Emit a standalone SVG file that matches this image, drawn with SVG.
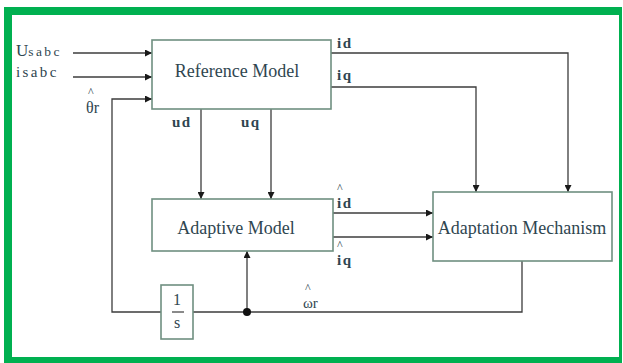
<svg xmlns="http://www.w3.org/2000/svg" width="623" height="363" viewBox="0 0 623 363">
  <style>
    .box { fill: #ffffff; stroke: #6f8f80; stroke-width: 1.6; }
    .wire { fill: none; stroke: #3c3c3c; stroke-width: 1.3; }
    .lbl { font-family: "Liberation Serif", "Times New Roman", serif; fill: #2f4650; }
    .title { font-size: 18px; text-anchor: middle; }
    .sig { font-size: 15px; letter-spacing: 1.5px; font-weight: bold; }
    .hat { font-size: 12px; }
  </style>
  <defs>
    <marker id="arrow" viewBox="0 0 10 10" refX="10" refY="5" markerWidth="7" markerHeight="7" markerUnits="userSpaceOnUse" orient="auto">
      <path d="M0,0 L10,5 L0,10 z" fill="#1a1a1a"/>
    </marker>
  </defs>

  <!-- frame -->
  <rect x="0" y="0" width="623" height="363" fill="#ffffff"/>
  <path d="M4,7 H622 V363 H4 Z M12,15 V357 H619 V15 Z" fill="#00b050" fill-rule="evenodd"/>

  <!-- connectors -->
  <g id="connectors">
    <line class="wire" x1="73" y1="53" x2="152" y2="53" marker-end="url(#arrow)"/>
    <line class="wire" x1="73" y1="77" x2="152" y2="77" marker-end="url(#arrow)"/>
    <polyline class="wire" points="161,312 112,312 112,99 152,99" marker-end="url(#arrow)"/>
    <line class="wire" x1="201" y1="109" x2="201" y2="199" marker-end="url(#arrow)"/>
    <line class="wire" x1="271" y1="109" x2="271" y2="199" marker-end="url(#arrow)"/>
    <polyline class="wire" points="331,53 568,53 568,192" marker-end="url(#arrow)"/>
    <polyline class="wire" points="331,87 476,87 476,192" marker-end="url(#arrow)"/>
    <line class="wire" x1="333" y1="213" x2="433" y2="213" marker-end="url(#arrow)"/>
    <line class="wire" x1="333" y1="237" x2="433" y2="237" marker-end="url(#arrow)"/>
    <polyline class="wire" points="522,261 522,312 193,312"/>
    <line class="wire" x1="247" y1="312" x2="247" y2="251" marker-end="url(#arrow)"/>
    <circle cx="247" cy="312" r="4" fill="#111111"/>
  </g>

  <!-- signal labels; estimated quantities carry a hat above -->
  <g class="lbl">
    <text x="16" y="56"><tspan font-size="17">U</tspan><tspan font-size="13.5" letter-spacing="2.4">sabc</tspan></text>
    <text x="16" y="77" font-size="15" letter-spacing="2.4">isabc</text>
    <text class="hat" x="88" y="96">^</text>
    <text x="86" y="113" font-size="16">θr</text>
    <text class="sig" x="172" y="127">ud</text>
    <text class="sig" x="241" y="127">uq</text>
    <text class="sig" x="337" y="48">id</text>
    <text class="sig" x="337" y="80">iq</text>
    <text class="hat" x="337" y="192">^</text>
    <text class="sig" x="337" y="208">id</text>
    <text class="hat" x="337" y="249">^</text>
    <text class="sig" x="337" y="265">iq</text>
    <text class="hat" x="305" y="292">^</text>
    <text x="303" y="308" font-size="15">ωr</text>
  </g>

  <g id="reference-model">
    <rect class="box" x="152" y="40" width="179" height="69"/>
    <text class="lbl title" x="237" y="77">Reference Model</text>
  </g>

  <g id="adaptive-model">
    <rect class="box" x="152" y="199" width="181" height="52"/>
    <text class="lbl title" x="236" y="234">Adaptive Model</text>
  </g>

  <g id="adaptation-mechanism">
    <rect class="box" x="433" y="192" width="179" height="69"/>
    <text class="lbl title" x="522" y="234">Adaptation Mechanism</text>
  </g>

  <g id="integrator">
    <rect class="box" x="161" y="285" width="32" height="54"/>
    <text class="lbl" x="177" y="305" font-size="16" text-anchor="middle">1</text>
    <line x1="172" y1="312" x2="184" y2="312" stroke="#3c3c3c" stroke-width="1.2"/>
    <text class="lbl" x="177" y="328" font-size="16" text-anchor="middle">s</text>
  </g>
</svg>
